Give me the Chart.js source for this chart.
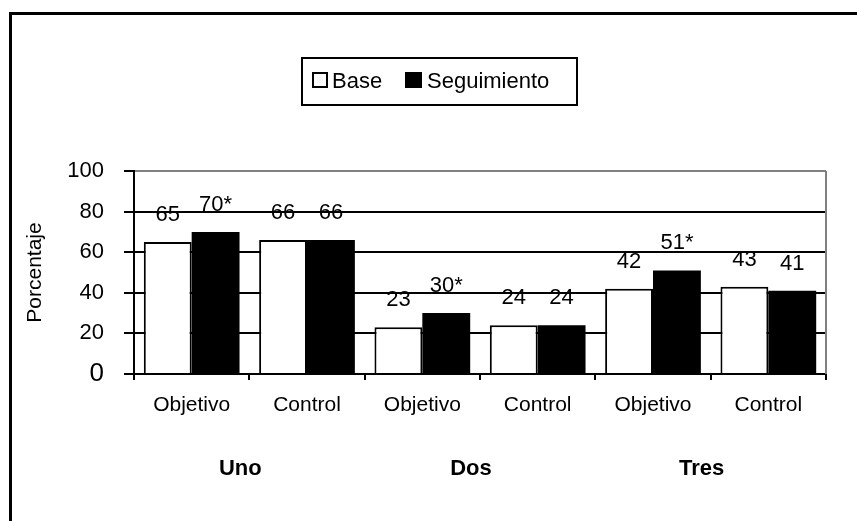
<!DOCTYPE html>
<html>
<head>
<meta charset="utf-8">
<script src="https://cdn.jsdelivr.net/npm/chart.js@4.4.1/dist/chart.umd.min.js"></script>
<style>
body{margin:0;background:#fff}
canvas{display:block}
</style>
</head>
<body>
<canvas id="c" width="857" height="521"></canvas>
<script>

// datos
const categorias = ["Objetivo","Control","Objetivo","Control","Objetivo","Control"]
const grupos = ["Uno","Dos","Tres"]
const base = [65,66,23,24,42,43]
const seguimiento = [70,66,30,24,51,41]
const marcaBase = ["","","","","",""]
const marcaSeg = ["*","","*","","*",""]
const yTicks = [0,20,40,60,80,100]

const FONT = "'Liberation Sans', Arial, sans-serif"

// marco exterior (solo lados visibles)
const marco = {
id:"marco",
afterDraw(chart){
const c = chart.ctx
c.save()
c.strokeStyle = "#000"
c.lineWidth = 3
c.beginPath()
c.moveTo(10.5, 521)
c.lineTo(10.5, 13.5)
c.lineTo(857, 13.5)
c.stroke()

// borde derecho gris del area
const a = chart.chartArea
c.strokeStyle = "#808080"
c.lineWidth = 2
c.beginPath()
c.moveTo(a.right, a.top)
c.lineTo(a.right, a.bottom)
c.stroke()
c.restore()
}
}

// etiquetas encima de las barras
const etiquetas = {
id:"etiquetas",
afterDatasetsDraw(chart){
const c = chart.ctx
c.save()
c.font = "22px " + FONT
c.fillStyle = "#000"
c.textAlign = "center"
c.textBaseline = "alphabetic"
const marcas = [marcaBase, marcaSeg]
chart.data.datasets.forEach((ds,i)=>{
chart.getDatasetMeta(i).data.forEach((bar,j)=>{
c.fillText(ds.data[j] + marcas[i][j], bar.x, bar.y - 21)
})
})
c.restore()
}
}

// nombres de grupo debajo de las categorias
const gruposPlugin = {
id:"grupos",
afterDraw(chart){
const c = chart.ctx
const x = chart.scales.x
c.save()
c.font = "bold 22px " + FONT
c.fillStyle = "#000"
c.textAlign = "center"
c.textBaseline = "middle"
grupos.forEach((g,i)=>{
const cx = (x.getPixelForValue(2*i) + x.getPixelForValue(2*i+1)) / 2 - 9
c.fillText(g, cx, 469)
})
c.restore()
}
}

// leyenda con recuadro
const leyenda = {
id:"leyenda",
afterDraw(chart){
const c = chart.ctx
c.save()
c.strokeStyle = "#000"
c.lineWidth = 2
c.strokeRect(302, 58, 275, 47)
c.font = "22px " + FONT
c.textBaseline = "alphabetic"
c.fillStyle = "#000"
const ds = chart.data.datasets
// Base
c.fillStyle = ds[0].backgroundColor
c.fillRect(313, 73, 14, 14)
c.strokeRect(313, 73, 14, 14)
c.fillStyle = "#000"
c.fillText(ds[0].label, 332, 88)
// Seguimiento
c.fillStyle = ds[1].backgroundColor
c.fillRect(405, 72, 17, 16)
c.fillStyle = "#000"
c.fillText(ds[1].label, 427, 88)
c.restore()
}
}

new Chart(document.getElementById("c"),{
type:"bar",
data:{
labels:categorias,
datasets:[
{
label:"Base",
data:base,
backgroundColor:"#fff",
borderColor:"#000",
borderWidth:2,
categoryPercentage:0.83,
barPercentage:1
},
{
label:"Seguimiento",
data:seguimiento,
backgroundColor:"#000",
borderColor:"#000",
borderWidth:0,
categoryPercentage:0.83,
barPercentage:1
}
]
},
options:{
responsive:false,
animation:false,
devicePixelRatio:1,
layout:{padding:{top:171,right:31,left:0,bottom:0}},
plugins:{
legend:{display:false},
tooltip:{enabled:false}
},
scales:{
x:{
grid:{offset:true,drawOnChartArea:false,color:"#000",lineWidth:2,tickLength:6},
border:{color:"#000",width:2},
ticks:{color:"#000",font:{size:21,family:FONT},padding:13,maxRotation:0},
afterFit(s){ s.height = 147 }
},
y:{
min:0,
max:100,
afterBuildTicks(s){ s.ticks = yTicks.map(v=>({value:v})) },
grid:{
color:(ctx)=> ctx.tick && ctx.tick.value===100 ? "#808080" : "#000",
tickColor:"#000",
lineWidth:2,
tickLength:10
},
border:{color:"#000",width:2},
ticks:{
color:"#000",
padding:20,
font:(ctx)=>({size: ctx.tick && ctx.tick.value===0 ? 26 : 22, family:FONT})
},
title:{display:true,text:"Porcentaje",color:"#000",font:{size:21,family:FONT},padding:{top:23,bottom:0}},
afterFit(s){ s.width = 134 }
}
}
},
plugins:[marco,etiquetas,gruposPlugin,leyenda]
})

</script>
</body>
</html>
